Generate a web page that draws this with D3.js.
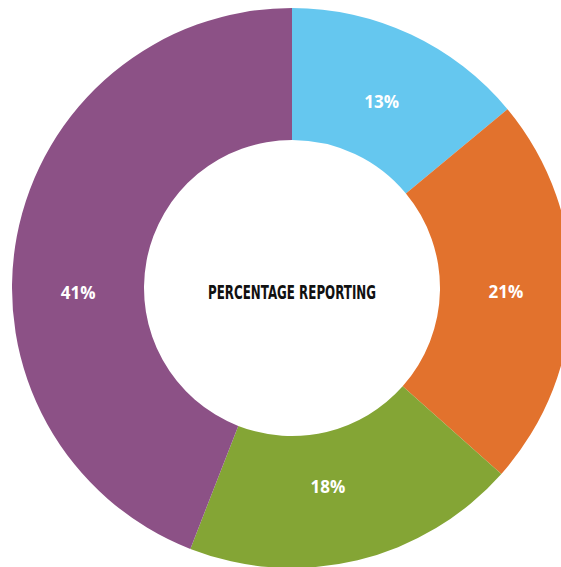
<!DOCTYPE html>
<html>
<head>
<meta charset="utf-8">
<script src="https://cdn.jsdelivr.net/npm/d3@7"></script>
<style>
  body { margin: 0; background: #fff; }
</style>
</head>
<body>
<svg class="donut"></svg>
<script>
// données
let categories = ["A", "B", "C", "D"];
let valeurs = [13, 21, 18, 41];
let etiquettes = ["13%", "21%", "18%", "41%"];
let couleurs = ["#65c7ef", "#e2722d", "#84a535", "#8c5186"];

let w = 561, h = 567;
let cx = 292, cy = 288;
let rExt = 280, rInt = 148;
let rEtiq = 209;
// petit décalage des étiquettes (degrés / pixels), comme sur l'original
let decalages = [0.5, 0, 3.3, -12];
let decalagesR = [-2, 5, -7, 5];

let svg = d3.select(".donut")
  .attr("width", w)
  .attr("height", h);

let g = svg.append("g")
  .attr("transform", `translate(${cx},${cy})`);

let pie = d3.pie().sort(null).value(d => d.v);
let arc = d3.arc().innerRadius(rInt).outerRadius(rExt);

let data = categories.map((c, i) => ({c: c, v: valeurs[i], lab: etiquettes[i], col: couleurs[i]}));
let arcs = pie(data);

g.selectAll("path")
  .data(arcs)
  .enter()
  .append("path")
  .attr("d", arc)
  .style("fill", d => d.data.col);

//Etiquettes
let posEtiq = (d, i) => {
  let a = (d.startAngle + d.endAngle) / 2 + decalages[i] * Math.PI / 180;
  let r = rEtiq + decalagesR[i];
  return [r * Math.sin(a), -r * Math.cos(a)];
};

g.selectAll("text.pct")
  .data(arcs)
  .enter()
  .append("text")
  .attr("class", "pct")
  .attr("transform", (d, i) => `translate(${posEtiq(d, i)})`)
  .attr("text-anchor", "middle")
  .attr("dy", "0.36em")
  .style("font-family", "'Open Sans', sans-serif")
  .style("font-weight", 700)
  .style("font-size", "17px")
  .style("fill", "#fff")
  .text(d => d.data.lab);

//Titre central (police condensée simulée)
g.append("text")
  .attr("x", 0)
  .attr("y", 11)
  .attr("text-anchor", "middle")
  .attr("textLength", 168)
  .attr("lengthAdjust", "spacingAndGlyphs")
  .style("font-family", "'DejaVu Sans', sans-serif")
  .style("font-weight", 700)
  .style("font-size", "20px")
  .style("fill", "#111")
  .text("PERCENTAGE REPORTING");
</script>
</body>
</html>
